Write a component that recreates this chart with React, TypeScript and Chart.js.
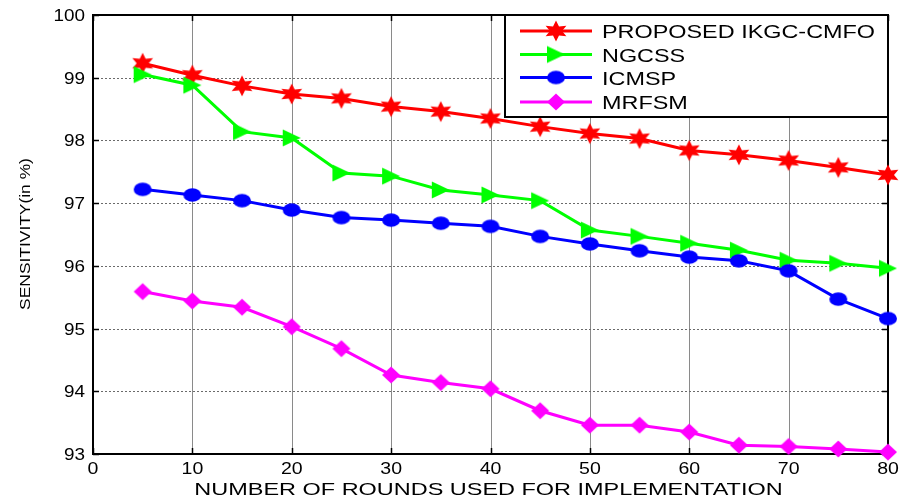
import React, { useEffect, useRef } from "react";
import { Chart, registerables } from "chart.js";
Chart.register(...registerables);

const rounds = [5, 10, 15, 20, 25, 30, 35, 40, 45, 50, 55, 60, 65, 70, 75, 80];
const proposed = [99.23, 99.04, 98.87, 98.74, 98.67, 98.54, 98.46, 98.35, 98.22, 98.11, 98.03, 97.84, 97.77, 97.68, 97.57, 97.45];
const ngcss = [99.05, 98.88, 98.14, 98.04, 97.48, 97.43, 97.21, 97.13, 97.04, 96.57, 96.47, 96.36, 96.25, 96.09, 96.04, 95.96];
const icmsp = [97.22, 97.13, 97.04, 96.89, 96.77, 96.73, 96.68, 96.63, 96.47, 96.35, 96.24, 96.14, 96.08, 95.92, 95.47, 95.16];
const mrfsm = [95.59, 95.44, 95.34, 95.03, 94.68, 94.26, 94.14, 94.04, 93.69, 93.46, 93.46, 93.35, 93.14, 93.12, 93.08, 93.03];
const xTicks = [0, 10, 20, 30, 40, 50, 60, 70, 80];
const yTicks = [93, 94, 95, 96, 97, 98, 99, 100];
const seriesNames = ["PROPOSED IKGC-CMFO", "NGCSS", "ICMSP", "MRFSM"];
const seriesColors = ["#ff0000", "#00ff00", "#0000ff", "#ff00ff"];
const seriesMarkers = ["hexagram", "triangleRight", "circle", "diamond"];
const xTitle = "NUMBER OF ROUNDS USED FOR IMPLEMENTATION";
const yTitle = "SENSITIVITY(in %)";

const FONT = '"Liberation Sans", Arial, sans-serif';

function makeMarker(kind: string, color: string): HTMLCanvasElement {
  const c = document.createElement("canvas");
  const w = 26, h = 24;
  c.width = w; c.height = h;
  const ctx = c.getContext("2d")!;
  ctx.fillStyle = color;
  const cx = w / 2, cy = h / 2;
  ctx.beginPath();
  if (kind === "hexagram") {
    for (let i = 0; i < 12; i++) {
      const a = -Math.PI / 2 + (i * Math.PI) / 6;
      const r = i % 2 === 0 ? 1 : 0.5;
      const x = cx + 12 * r * Math.cos(a);
      const y = cy + 10.5 * r * Math.sin(a);
      if (i === 0) ctx.moveTo(x, y); else ctx.lineTo(x, y);
    }
  } else if (kind === "triangleRight") {
    ctx.moveTo(cx - 9, cy - 8.5);
    ctx.lineTo(cx + 9, cy);
    ctx.lineTo(cx - 9, cy + 8.5);
  } else if (kind === "circle") {
    ctx.ellipse(cx, cy, 9, 6.8, 0, 0, Math.PI * 2);
  } else {
    ctx.moveTo(cx, cy - 8.5);
    ctx.lineTo(cx + 9, cy);
    ctx.lineTo(cx, cy + 8.5);
    ctx.lineTo(cx - 9, cy);
  }
  ctx.closePath();
  ctx.fill();
  return c;
}

function drawText(ctx: CanvasRenderingContext2D, text: string, x: number, y: number, size: number, sx: number, align: CanvasTextAlign, rotate = false) {
  ctx.save();
  ctx.translate(x, y);
  if (rotate) ctx.rotate(-Math.PI / 2);
  ctx.scale(sx, 1);
  ctx.font = `${size}px ${FONT}`;
  ctx.textAlign = align;
  ctx.textBaseline = "alphabetic";
  ctx.fillStyle = "#000";
  ctx.fillText(text, 0, 0);
  ctx.restore();
}

export default function App() {
  const ref = useRef<HTMLCanvasElement>(null);
  useEffect(() => {
    const markers = seriesMarkers.map((m, i) => makeMarker(m, seriesColors[i]));
    const series = [proposed, ngcss, icmsp, mrfsm];

    const decor = {
      id: "decor",
      beforeDatasetsDraw(chart: any) {
        const { ctx, chartArea: a, scales } = chart;
        const xs = scales.x, ys = scales.y;
        ctx.save();
        // vertical grid
        ctx.strokeStyle = "#8a8a8a";
        ctx.lineWidth = 1;
        xTicks.forEach((t) => {
          const px = Math.round(xs.getPixelForValue(t)) + 0.5;
          ctx.beginPath(); ctx.moveTo(px, a.top); ctx.lineTo(px, a.bottom); ctx.stroke();
        });
        // horizontal grid dotted
        ctx.strokeStyle = "#6a6a6a";
        ctx.setLineDash([2, 2]);
        yTicks.forEach((t) => {
          const py = Math.round(ys.getPixelForValue(t)) + 0.5;
          ctx.beginPath(); ctx.moveTo(a.left, py); ctx.lineTo(a.right, py); ctx.stroke();
        });
        ctx.setLineDash([]);
        // box
        ctx.strokeStyle = "#000";
        ctx.lineWidth = 2;
        ctx.strokeRect(a.left, a.top, a.right - a.left, a.bottom - a.top);
        // inner ticks
        ctx.lineWidth = 1.5;
        xTicks.forEach((t) => {
          const px = Math.round(xs.getPixelForValue(t)) + 0.5;
          ctx.beginPath(); ctx.moveTo(px, a.bottom); ctx.lineTo(px, a.bottom - 6); ctx.stroke();
          ctx.beginPath(); ctx.moveTo(px, a.top); ctx.lineTo(px, a.top + 6); ctx.stroke();
        });
        yTicks.forEach((t) => {
          const py = Math.round(ys.getPixelForValue(t)) + 0.5;
          ctx.beginPath(); ctx.moveTo(a.left, py); ctx.lineTo(a.left + 6, py); ctx.stroke();
          ctx.beginPath(); ctx.moveTo(a.right, py); ctx.lineTo(a.right - 6, py); ctx.stroke();
        });
        // tick labels
        yTicks.forEach((t) => {
          const py = ys.getPixelForValue(t);
          drawText(ctx, String(t), a.left - 8, py + 6, 16, 1.18, "right");
        });
        xTicks.forEach((t) => {
          const px = xs.getPixelForValue(t);
          drawText(ctx, String(t), px, 474, 16, 1.22, "center");
        });
        // axis titles
        drawText(ctx, xTitle, (a.left + a.right) / 2 - 2, 495, 17, 1.38, "center");
        drawText(ctx, yTitle, 30, 234, 15, 1.16, "center", true);
        ctx.restore();
      },
      afterDatasetsDraw(chart: any) {
        const { ctx, chartArea: a } = chart;
        ctx.save();
        const lx = 505, ly = 15, lr = a.right, lb = 117;
        ctx.fillStyle = "#fff";
        ctx.fillRect(lx, ly, lr - lx, lb - ly);
        ctx.strokeStyle = "#000";
        ctx.lineWidth = 2;
        ctx.strokeRect(lx, ly, lr - lx, lb - ly);
        const rows = [31, 54.5, 77.5, 102];
        seriesNames.forEach((name, i) => {
          const cy = rows[i];
          ctx.strokeStyle = seriesColors[i];
          ctx.lineWidth = 3;
          ctx.beginPath(); ctx.moveTo(520, cy); ctx.lineTo(592, cy); ctx.stroke();
          const m = markers[i];
          ctx.drawImage(m, 556 - m.width / 2, cy - m.height / 2);
          drawText(ctx, name, 602, cy + 7, 18, 1.3, "left");
        });
        ctx.restore();
      },
    };

    const chart = new Chart(ref.current!, {
      type: "line",
      data: {
        datasets: series.map((vals, i) => ({
          label: seriesNames[i],
          data: rounds.map((x, j) => ({ x, y: vals[j] })),
          borderColor: seriesColors[i],
          backgroundColor: seriesColors[i],
          borderWidth: 3,
          pointStyle: markers[i] as any,
          pointRadius: 10,
          pointHoverRadius: 10,
          clip: false as any,
          order: 4 - i,
          tension: 0,
        })),
      },
      options: {
        animation: false,
        responsive: false,
        events: [],
        layout: { padding: { left: 93, right: 12, top: 15, bottom: 46 } },
        scales: {
          x: { type: "linear", min: 0, max: 80, display: false },
          y: { type: "linear", min: 93, max: 100, display: false },
        },
        plugins: { legend: { display: false }, tooltip: { enabled: false } },
      },
      plugins: [decor],
    });
    return () => chart.destroy();
  }, []);
  return (
    <div style={{ position: "absolute", left: 0, top: 0, width: 901, height: 500, background: "#fff" }}>
      <canvas ref={ref} width={901} height={500} />
    </div>
  );
}
